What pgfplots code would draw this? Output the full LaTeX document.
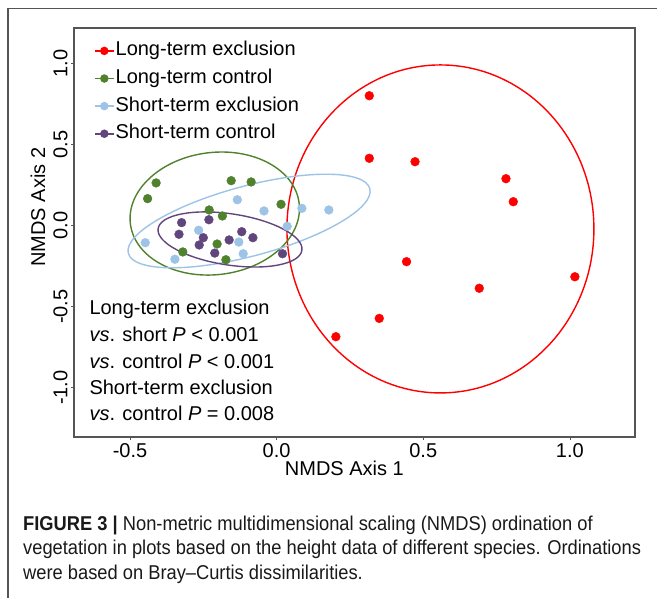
\documentclass[border=0pt]{standalone}
\usepackage{pgfplots}
\pgfplotsset{compat=1.18}
\usepackage{fontspec}
\setmainfont{Liberation Sans}
\newfontfamily\capfont[FakeStretch=0.915]{Liberation Sans}

\definecolor{ltexcl}{RGB}{255,0,0}
\definecolor{ltctrl}{RGB}{80,130,45}
\definecolor{stexcl}{RGB}{157,195,230}
\definecolor{stctrl}{RGB}{96,70,125}
\definecolor{framegray}{RGB}{85,85,85}

\newcommand{\bigfont}{\fontsize{20}{24}\selectfont}

\begin{document}
\begin{tikzpicture}[x=1pt,y=1pt]
\useasboundingbox (0,0) rectangle (657,598);
% outer figure frame (open at right and bottom)
\draw[framegray, line width=1.3pt] (8,0) -- (8,589.5) -- (657,589.5);

\begin{axis}[
    at={(74pt,161pt)}, anchor=south west,
    scale only axis, width=561pt, height=409pt,
    xmin=-0.691, xmax=1.222,
    ymin=-1.304, ymax=1.22,
    axis line style={framegray, line width=1.3pt},
    xtick={-0.5,0,0.5,1}, xticklabels={-0.5,0.0,0.5,1.0},
    ytick={-1,-0.5,0,0.5,1}, yticklabels={-1.0,-0.5,0.0,0.5,1.0},
    tick align=outside, tickpos=left, major tick length=3pt,
    tick style={framegray, line width=0.8pt},
    ticklabel style={font=\bigfont, text=black},
    y tick label style={rotate=90, anchor=south},
    xlabel={NMDS Axis 1}, ylabel={NMDS Axis 2},
    label style={font=\bigfont},
    x label style={at={(axis description cs:0.482,-0.076)}, anchor=center},
    y label style={at={(axis description cs:-0.064,0.562)}, anchor=center},
    legend image code/.code={\draw[mark repeat=2,mark phase=2,#1] plot coordinates {(0pt,0pt) (9.5pt,0pt) (19pt,0pt)};},
    legend style={at={(axis description cs:0.03,0.975)}, anchor=north west,
        draw=none, fill=none, font=\bigfont, row sep=6.6pt,
        nodes={inner sep=1pt, text height=14.5pt, text depth=4.5pt}},
    legend cell align=left,
]
% confidence ellipses
\draw[ltexcl, line width=1.4pt] (axis cs:0.5585,-0.020) ellipse [x radius=153.5pt, y radius=164pt];
\draw[ltctrl, line width=1.4pt, rotate around={7:(axis cs:-0.211,0.075)}] (axis cs:-0.211,0.075) ellipse [x radius=85pt, y radius=61.1pt];
\draw[stexcl, line width=1.4pt, rotate around={15:(axis cs:-0.094,0.029)}] (axis cs:-0.094,0.029) ellipse [x radius=125pt, y radius=35pt];
\draw[stctrl, line width=1.4pt, rotate around={-8.6:(axis cs:-0.159,-0.085)}] (axis cs:-0.159,-0.085) ellipse [x radius=72.7pt, y radius=25.6pt];

\addplot[only marks, mark=*, mark size=4.4pt, color=ltexcl, forget plot] coordinates {
    (0.316,0.802) (0.316,0.416) (0.472,0.395) (0.782,0.290) (0.807,0.148)
    (0.443,-0.222) (0.691,-0.386) (1.017,-0.315) (0.350,-0.572) (0.202,-0.685)
};
\addplot[only marks, mark=*, mark size=4.4pt, color=ltctrl, forget plot] coordinates {
    (-0.411,0.264) (-0.440,0.167) (-0.155,0.278) (-0.087,0.270) (0.015,0.132)
    (-0.230,0.097) (-0.185,0.060) (-0.203,-0.113) (-0.320,-0.162) (-0.173,-0.210)
};
\addplot[only marks, mark=*, mark size=4.4pt, color=stexcl, forget plot] coordinates {
    (-0.134,0.160) (-0.043,0.091) (0.086,0.107) (0.178,0.097) (-0.266,-0.028)
    (0.036,-0.004) (-0.448,-0.105) (-0.129,-0.101) (-0.114,-0.173) (-0.347,-0.207)
};
\addplot[only marks, mark=*, mark size=4.4pt, color=stctrl, forget plot] coordinates {
    (-0.324,0.019) (-0.231,0.037) (-0.333,-0.053) (-0.250,-0.074) (-0.264,-0.119)
    (-0.211,-0.169) (-0.162,-0.088) (-0.119,-0.037) (-0.081,-0.074) (0.020,-0.173)
};

\addlegendimage{ltexcl, line width=1.6pt, mark=*, mark size=3.4pt}
\addlegendentry{Long-term exclusion}
\addlegendimage{ltctrl, line width=1.6pt, mark=*, mark size=3.4pt}
\addlegendentry{Long-term control}
\addlegendimage{stexcl, line width=1.6pt, mark=*, mark size=3.4pt}
\addlegendentry{Short-term exclusion}
\addlegendimage{stctrl, line width=1.6pt, mark=*, mark size=3.4pt}
\addlegendentry{Short-term control}
\end{axis}

% statistics annotation
\begin{scope}[every node/.style={anchor=base west, font=\bigfont, inner sep=0pt}]
\node at (89.3,283) {Long-term exclusion};
\node at (89.3,256.3) {\textit{vs}. short \textit{P} < 0.001};
\node at (89.3,229.7) {\textit{vs}. control \textit{P} < 0.001};
\node at (89.3,203) {Short-term exclusion};
\node at (89.3,177.3) {\textit{vs}. control \textit{P} = 0.008};
\end{scope}

% caption
\begin{scope}[every node/.style={anchor=base west, font=\capfont\fontsize{20}{24}\selectfont, text=black!90, inner sep=0pt}]
\node at (23,67) {\textbf{FIGURE 3 |} Non-metric multidimensional scaling (NMDS) ordination of};
\node at (23,43) {vegetation in plots based on the height data of different species. Ordinations};
\node at (23,19) {were based on Bray–Curtis dissimilarities.};
\end{scope}
\end{tikzpicture}
\end{document}
